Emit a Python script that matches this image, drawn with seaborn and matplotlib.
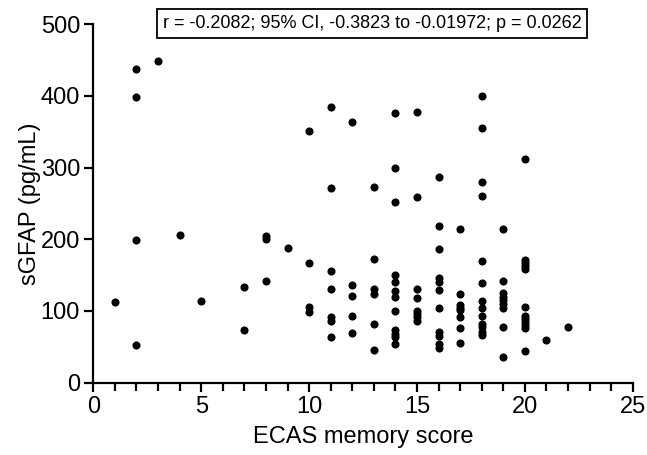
import matplotlib
matplotlib.use("Agg")
import matplotlib.pyplot as plt
from matplotlib.ticker import MultipleLocator
import seaborn as sns
import pandas as pd

# ECAS memory score columns and sGFAP values (pg/mL)
score_1 = [112]
score_2 = [438, 398, 199, 53]
score_3 = [448]
score_4 = [206]
score_5 = [114]
score_7 = [133, 73]
score_8 = [204, 201, 142]
score_9 = [188]
score_10 = [351, 167, 105, 98]
score_11 = [384, 271, 156, 131, 91, 86, 63]
score_12 = [364, 136, 121, 93, 69]
score_13 = [273, 172, 131, 124, 82, 45]
score_14 = [376, 299, 252, 150, 140, 128, 119, 100, 74, 68, 63, 54]
score_15 = [377, 259, 131, 118, 100, 96, 91, 86]
score_16 = [287, 218, 187, 146, 140, 129, 104, 70, 65, 54, 49]
score_17 = [214, 123, 108, 104, 101, 92, 76, 55]
score_18 = [400, 355, 280, 260, 169, 139, 114, 104, 93, 82, 78, 70, 66]
score_19 = [214, 142, 125, 120, 115, 110, 104, 77, 36]
score_20 = [312, 171, 167, 163, 158, 105, 93, 89, 85, 81, 76, 44]
score_21 = [59]
score_22 = [78]

columns = {1: score_1, 2: score_2, 3: score_3, 4: score_4, 5: score_5,
           7: score_7, 8: score_8, 9: score_9, 10: score_10, 11: score_11,
           12: score_12, 13: score_13, 14: score_14, 15: score_15,
           16: score_16, 17: score_17, 18: score_18, 19: score_19,
           20: score_20, 21: score_21, 22: score_22}

rows = [(k, v) for k, vals in columns.items() for v in vals]
df = pd.DataFrame(rows, columns=["ECAS memory score", "sGFAP (pg/mL)"])

stats_text = "r = -0.2082; 95% CI, -0.3823 to -0.01972; p = 0.0262"

sns.set_style("ticks")
plt.rcParams['font.family'] = ['Liberation Sans', 'DejaVu Sans']

fig = plt.figure(figsize=(6.47, 4.55), dpi=100)
ax = fig.add_axes([0.1442, 0.159, 0.978 - 0.1442, 0.947 - 0.159])

sns.scatterplot(data=df, x="ECAS memory score", y="sGFAP (pg/mL)", ax=ax,
                color="black", s=34, linewidth=0, clip_on=False)

ax.set_xlim(0, 25)
ax.set_ylim(0, 500)
ax.xaxis.set_major_locator(MultipleLocator(5))
ax.xaxis.set_minor_locator(MultipleLocator(1))
ax.yaxis.set_major_locator(MultipleLocator(100))

for s in ["top", "right"]:
    ax.spines[s].set_visible(False)
for s in ["left", "bottom"]:
    ax.spines[s].set_linewidth(1.6)
    ax.spines[s].set_color("black")

ax.tick_params(axis="both", which="major", direction="out", length=6.5,
               width=1.6, labelsize=17, colors="black", pad=3)
ax.tick_params(axis="x", which="minor", direction="out", length=6,
               width=1.6, colors="black")

ax.set_xlabel("ECAS memory score", fontsize=17, labelpad=6, color="black")
ax.set_ylabel("sGFAP (pg/mL)", fontsize=17, labelpad=0, color="black")

fig.text(0.575, 0.948, stats_text, ha="center", va="center", fontsize=13,
         color="black",
         bbox=dict(boxstyle="square,pad=0.32", facecolor="white",
                   edgecolor="black", linewidth=1.3))

fig.savefig("out.png", dpi=100)
